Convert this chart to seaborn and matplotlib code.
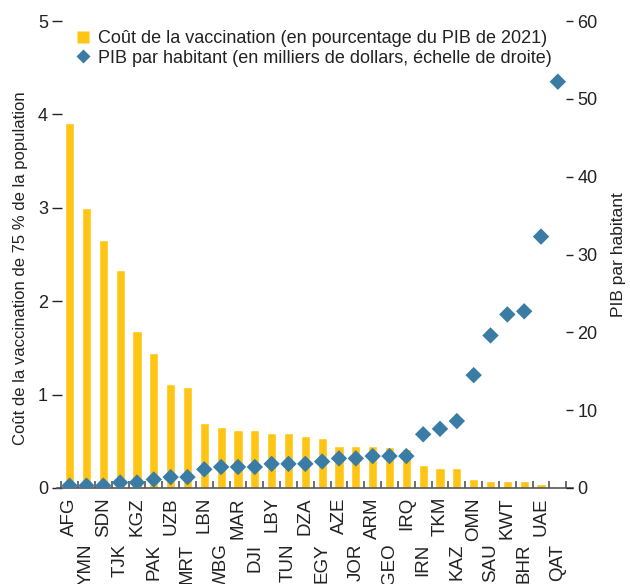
import numpy as np
import pandas as pd
import matplotlib
matplotlib.use("Agg")
import matplotlib.pyplot as plt
from matplotlib.lines import Line2D
import seaborn as sns

countries = ["AFG", "YMN", "SDN", "TJK", "KGZ", "PAK", "UZB", "MRT", "LBN", "WBG",
             "MAR", "DJI", "LBY", "TUN", "DZA", "EGY", "AZE", "JOR", "ARM", "GEO",
             "IRQ", "IRN", "TKM", "KAZ", "OMN", "SAU", "KWT", "BHR", "UAE", "QAT"]
vacc_cost = [3.91, 3.00, 2.65, 2.33, 1.68, 1.45, 1.11, 1.08, 0.70, 0.65,
             0.62, 0.62, 0.59, 0.59, 0.56, 0.53, 0.45, 0.45, 0.45, 0.44,
             0.42, 0.25, 0.21, 0.21, 0.10, 0.08, 0.08, 0.08, 0.04, 0.015]
gdp_pc = [0.3, 0.3, 0.3, 0.7, 0.7, 1.1, 1.4, 1.4, 2.4, 2.7,
          2.7, 2.7, 3.1, 3.1, 3.1, 3.4, 3.8, 3.8, 4.1, 4.1,
          4.1, 6.9, 7.6, 8.6, 14.5, 19.6, 22.3, 22.7, 32.3, 52.2]
left_ticks = [0, 1, 2, 3, 4, 5]
right_ticks = [0, 10, 20, 30, 40, 50, 60]

label_bar = "Coût de la vaccination (en pourcentage du PIB de 2021)"
label_dot = "PIB par habitant (en milliers de dollars, échelle de droite)"
ylabel_left = "Coût de la vaccination de 75 % de la population"
ylabel_right = "PIB par habitant"

YELLOW = "#FEC514"
BLUE = "#3B7CA5"
TXT = "#222222"
SPINE = "#555555"

sns.set_style("white")
plt.rcParams["font.family"] = ["Liberation Sans", "DejaVu Sans"]
plt.rcParams["font.size"] = 12
plt.rcParams["text.color"] = TXT
plt.rcParams["axes.labelcolor"] = TXT
plt.rcParams["xtick.color"] = TXT
plt.rcParams["ytick.color"] = TXT

df = pd.DataFrame({"pays": countries, "cout": vacc_cost, "pib": gdp_pc})

fig = plt.figure(figsize=(6.3, 5.84), dpi=100)
ax = fig.add_axes([57 / 630, 1 - 488 / 584, (573 - 57) / 630, (488 - 21) / 584])

sns.barplot(data=df, x="pays", y="cout", color=YELLOW, width=0.55,
            saturation=1, ax=ax, order=countries)
ax.set_xlim(-0.75, 29.9)
ax.set_ylim(0, 5)
ax.set_yticks(left_ticks)
ax.set_xlabel("")
ax.set_ylabel(ylabel_left, fontsize=12)
ax.yaxis.set_label_coords((28 - 57) / 516, 0.47)

ax2 = ax.twinx()
sns.scatterplot(x=np.arange(len(countries)), y=df["pib"], marker="D", s=70,
                color=BLUE, edgecolor="none", ax=ax2, zorder=5)
ax2.set_ylim(0, 60)
ax2.set_yticks(right_ticks)
ax2.set_ylabel(ylabel_right, fontsize=12.5)
ax2.yaxis.set_label_coords((611 - 57) / 516, 0.5)
ax2.set_xlim(-0.75, 29.9)

for a in (ax, ax2):
    for s in ("top", "left", "right"):
        a.spines[s].set_visible(False)
ax2.spines["bottom"].set_visible(False)
ax.spines["bottom"].set_color(SPINE)
ax.spines["bottom"].set_linewidth(1.2)

ax.tick_params(axis="y", which="major", direction="inout", length=7, width=1,
               color=TXT, pad=3, labelsize=13, left=True)
ax2.tick_params(axis="y", which="major", direction="in", length=5, width=1,
                color=TXT, pad=3, labelsize=13, right=True)

# x ticks: labels staggered, boundary marks as minor ticks
ax.set_xticks(np.arange(len(countries)))
ax.set_xticklabels(countries, rotation=90, fontsize=13.5)
ax.tick_params(axis="x", which="major", length=0)
ax.set_xticks(np.arange(len(countries) + 1) - 0.5, minor=True)
ax.tick_params(axis="x", which="minor", direction="in", length=5, width=1.2,
               color=SPINE, bottom=True)
for i, t in enumerate(ax.xaxis.get_major_ticks()):
    t.set_pad(6.5 if i % 2 == 0 else 40)
    t.label1.set_va("top")

handles = [Line2D([], [], marker="s", linestyle="none", markersize=9,
                  color=YELLOW, markeredgecolor="none"),
           Line2D([], [], marker="D", linestyle="none", markersize=7,
                  color=BLUE, markeredgecolor="none")]
fig.legend(handles, [label_bar, label_dot], loc="upper left",
           bbox_to_anchor=(75 / 630, 1 - 30 / 584), frameon=False,
           fontsize=13, handlelength=0.9, handletextpad=0.35,
           labelspacing=0.14, borderaxespad=0, borderpad=0)

fig.savefig("out.png", dpi=100)
